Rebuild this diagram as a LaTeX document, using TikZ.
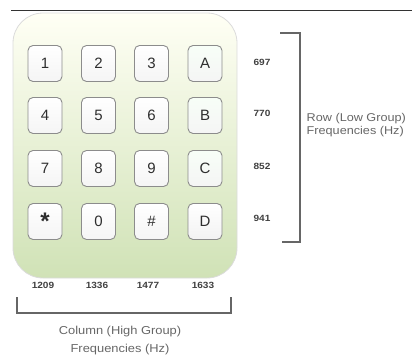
\documentclass[tikz,border=0pt]{standalone}
\usepackage{fontspec}
\setmainfont{Liberation Sans}
\begin{document}
\begin{tikzpicture}[x=1pt,y=-1pt,
  keybox/.style={draw=black!45,line width=0.9pt,rounded corners=5pt,minimum width=34pt,minimum height=36pt,inner sep=0pt,top color=white,bottom color=black!4,text=black!82,font=\fontsize{15}{15}\selectfont},
  letterkey/.style={keybox,top color=black!8!green!3,bottom color=black!4},
  freq/.style={font=\bfseries\fontsize{9}{9}\selectfont,text=black!75,xscale=1.12,inner sep=0pt},
  lbl/.style={text=black!60,inner sep=0pt,xscale=1.12},
  brk/.style={draw=black!60,line width=1.3pt}]
\useasboundingbox (0,0) rectangle (412,356);
\draw[black!80,line width=0.9pt] (11,10) -- (412,10);
\shade[top color=white!96!yellow,bottom color={rgb,255:red,208;green,226;blue,182},rounded corners=30pt]
  (13,13) rectangle (237,278);
\draw[black!14,line width=0.8pt,rounded corners=30pt] (13,13) rectangle (237,278);
% keys
\node[keybox] (k1) at (45,63.5) {1};
\node[keybox] (k2) at (98.5,63.5) {2};
\node[keybox] (k3) at (151.5,63.5) {3};
\node[letterkey] (kA) at (205,63.5) {A};
\node[keybox] (k4) at (45,115.5) {4};
\node[keybox] (k5) at (98.5,115.5) {5};
\node[keybox] (k6) at (151.5,115.5) {6};
\node[letterkey] (kB) at (205,115.5) {B};
\node[keybox] (k7) at (45,168.5) {7};
\node[keybox] (k8) at (98.5,168.5) {8};
\node[keybox] (k9) at (151.5,168.5) {9};
\node[letterkey] (kC) at (205,168.5) {C};
\node[keybox] (kstar) at (45,221.5) {\raisebox{-6pt}{\bfseries\fontsize{24}{24}\selectfont *}};
\node[keybox] (k0) at (98.5,221.5) {0};
\node[keybox] (khash) at (151.5,221.5) {\#};
\node[keybox,top color=white,bottom color=black!5] (kD) at (205,221.5) {D};
% row frequencies
\node[freq] (f697) at (262,62) {697};
\node[freq] (f770) at (262,113) {770};
\node[freq] (f852) at (262,166) {852};
\node[freq] (f941) at (262,218) {941};
% column frequencies
\node[freq] (f1209) at (43,285) {1209};
\node[freq] (f1336) at (97,285) {1336};
\node[freq] (f1477) at (148,285) {1477};
\node[freq] (f1633) at (203,285) {1633};
% right bracket
\coordinate (rb1) at (280,33);
\coordinate (rb2) at (300,33);
\coordinate (rb3) at (300,242);
\coordinate (rb4) at (282,242);
\draw[brk] (rb1) -- (rb2) -- (rb3) -- (rb4);
\node[lbl,anchor=west,align=left,font=\fontsize{11.3}{13}\selectfont] (rowlbl) at (306.5,125) {Row (Low Group)\\Frequencies (Hz)};
% bottom bracket
\coordinate (bb1) at (17,297);
\coordinate (bb2) at (17,313);
\coordinate (bb3) at (231,313);
\coordinate (bb4) at (231,297);
\draw[brk] (bb1) -- (bb2) -- (bb3) -- (bb4);
\node[lbl,align=center,font=\fontsize{11.5}{18}\selectfont] (collbl) at (120,341) {Column (High Group)\\Frequencies (Hz)};
\end{tikzpicture}
\end{document}
